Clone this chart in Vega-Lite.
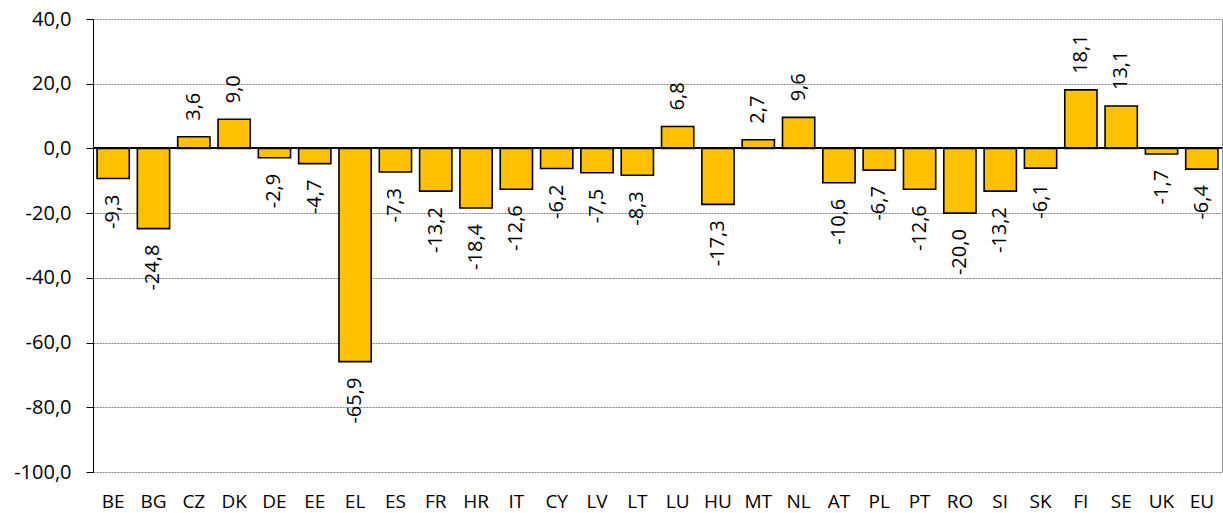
{
  "$schema": "https://vega.github.io/schema/vega-lite/v6.json",
  "autosize": "none",
  "width": 1129,
  "height": 453,
  "padding": {"left": 93, "top": 19, "right": 1, "bottom": 41},
  "background": "white",
  "config": {
    "font": "Open Sans",
    "view": {"stroke": null},
    "locale": {"number": {"decimal": ",", "thousands": ".", "grouping": [3], "currency": ["", " €"], "minus": "-"}},
    "axis": {"labelFont": "Open Sans", "labelFontSize": 20, "labelColor": "black"}
  },
  "data": {
    "values": [
      {"c": "BE", "v": -9.3}, {"c": "BG", "v": -24.8}, {"c": "CZ", "v": 3.6}, {"c": "DK", "v": 9.0},
      {"c": "DE", "v": -2.9}, {"c": "EE", "v": -4.7}, {"c": "EL", "v": -65.9}, {"c": "ES", "v": -7.3},
      {"c": "FR", "v": -13.2}, {"c": "HR", "v": -18.4}, {"c": "IT", "v": -12.6}, {"c": "CY", "v": -6.2},
      {"c": "LV", "v": -7.5}, {"c": "LT", "v": -8.3}, {"c": "LU", "v": 6.8}, {"c": "HU", "v": -17.3},
      {"c": "MT", "v": 2.7}, {"c": "NL", "v": 9.6}, {"c": "AT", "v": -10.6}, {"c": "PL", "v": -6.7},
      {"c": "PT", "v": -12.6}, {"c": "RO", "v": -20.0}, {"c": "SI", "v": -13.2}, {"c": "SK", "v": -6.1},
      {"c": "FI", "v": 18.1}, {"c": "SE", "v": 13.1}, {"c": "UK", "v": -1.7}, {"c": "EU", "v": -6.4}
    ]
  },
  "resolve": {"axis": {"y": "independent"}},
  "layer": [
    {
      "mark": {"type": "bar", "fill": "#FFC000", "stroke": "black", "strokeWidth": 1.6},
      "encoding": {
        "x": {"field": "c", "type": "nominal", "sort": null,
              "scale": {"paddingInner": 0.2, "paddingOuter": 0.1},
              "axis": {"title": null, "labelAngle": 0, "ticks": false, "domain": false, "labelPadding": 20, "labelFontSize": 19}},
        "y": {"field": "v", "type": "quantitative",
              "scale": {"domain": [-100, 40], "nice": false, "zero": false},
              "axis": {"title": null, "values": [-100, -80, -60, -40, -20, 0, 20, 40], "format": ".1f",
                       "domainColor": "black", "domainWidth": 1, "tickColor": "black", "tickSize": 7,
                       "labelPadding": 15, "gridColor": "#808080", "gridDash": [2, 1], "gridWidth": 1}}
      }
    },
    {
      "mark": {"type": "rule", "color": "black", "strokeWidth": 1.3},
      "encoding": {
        "y": {"datum": 0, "type": "quantitative",
              "axis": {"orient": "right", "title": null, "labels": false, "ticks": false, "grid": false,
                       "domainColor": "#909090", "domainWidth": 1}}
      }
    },
    {
      "transform": [{"filter": "datum.v >= 0"}],
      "mark": {"type": "text", "angle": 270, "align": "left", "baseline": "middle", "dx": 16, "fontSize": 20, "color": "black"},
      "encoding": {
        "x": {"field": "c", "type": "nominal", "sort": null},
        "y": {"field": "v", "type": "quantitative", "axis": null},
        "text": {"field": "v", "type": "quantitative", "format": ".1f"}
      }
    },
    {
      "transform": [{"filter": "datum.v < 0"}],
      "mark": {"type": "text", "angle": 270, "align": "right", "baseline": "middle", "dx": -16, "fontSize": 20, "color": "black"},
      "encoding": {
        "x": {"field": "c", "type": "nominal", "sort": null},
        "y": {"field": "v", "type": "quantitative", "axis": null},
        "text": {"field": "v", "type": "quantitative", "format": ".1f"}
      }
    }
  ]
}
